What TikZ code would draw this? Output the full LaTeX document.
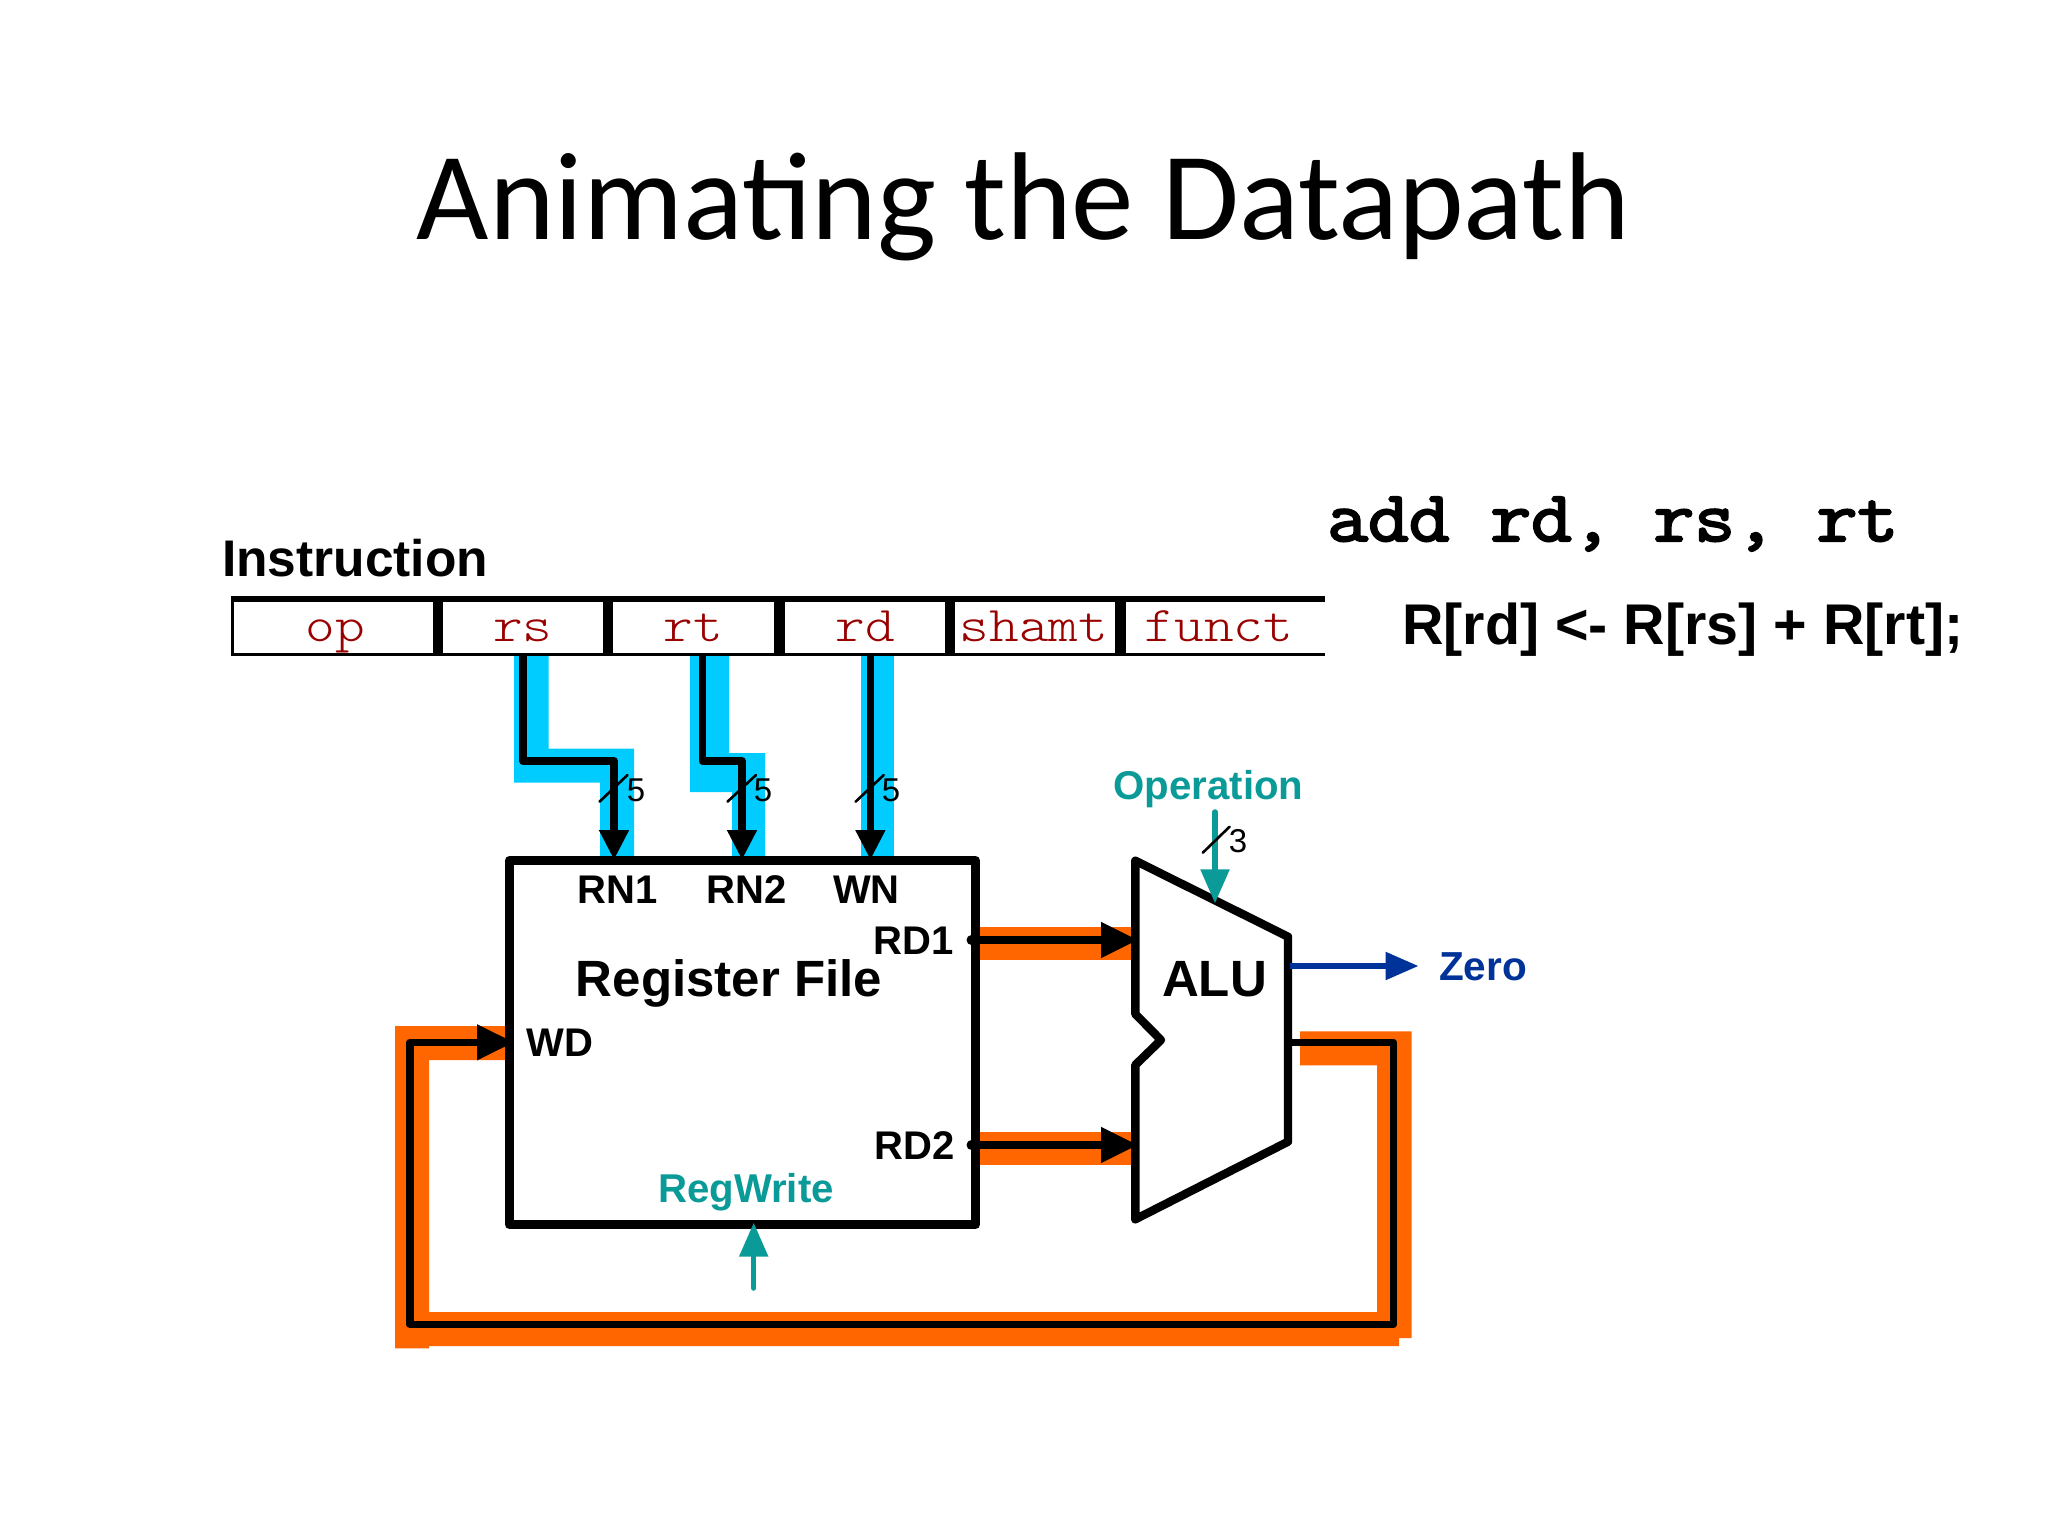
\documentclass[tikz,border=0pt]{standalone}
\usepackage{fontspec}
\usetikzlibrary{arrows.meta}
\setmainfont{Liberation Sans}
\newfontfamily\titlefont{Carlito}
\newfontfamily\asmfont{Latin Modern Mono}[FakeBold=3,FakeStretch=1.10]
\newfontfamily\fieldfont{Latin Modern Mono Light}[FakeStretch=1.13]
\definecolor{tealc}{HTML}{0A9A98}
\definecolor{bandorange}{HTML}{FF6600}
\definecolor{bandblue}{HTML}{00CCFF}
\definecolor{fieldred}{HTML}{990000}
\definecolor{zeroblue}{HTML}{003399}
\tikzset{
  x=1pt,y=-1pt,
  lab/.style={anchor=base,inner sep=0pt,outer sep=0pt,font=\fontsize{40}{40}\selectfont\bfseries},
  big/.style={anchor=base,inner sep=0pt,outer sep=0pt,font=\fontsize{51}{51}\selectfont\bfseries},
  ctl/.style={anchor=base,inner sep=0pt,outer sep=0pt,text=tealc,font=\fontsize{40.2}{40.2}\selectfont\bfseries},
  fieldtxt/.style={anchor=base,inner sep=0pt,outer sep=0pt,text=fieldred,font=\fontsize{50}{50}\selectfont\fieldfont},
  width/.style={anchor=base,inner sep=0pt,outer sep=0pt,font=\fontsize{33}{33}\selectfont},
  slash/.style={line width=2.6pt,line cap=round},
  wire/.style={line width=7.6pt,line join=round},
  hotwire/.style={wire,-{Triangle[length=37pt,width=34pt]}},
  buswire/.style={wire,-{Triangle[length=30pt,width=28pt]}},
  ctlwire/.style={line width=5.5pt,draw=tealc,line cap=round,-{Triangle[length=34pt,width=28pt]}},
  band/.style={fill=bandorange,draw=none},
  bluebus/.style={fill=bandblue,draw=none},
  block/.style={draw=black,fill=white,line width=9pt,line join=round},
  bar/.style={fill=black,draw=none},
}
\begin{document}
\begin{tikzpicture}
\useasboundingbox (0,0) rectangle (2048,1536);
\fill[white] (0,0) rectangle (2048,1536);

% title
\node[anchor=base,inner sep=0pt,font=\fontsize{125}{125}\selectfont\titlefont] (title) at (1023.5,239) {Animating the Datapath};

% right-hand text
\node[anchor=base west,inner sep=0pt,font=\fontsize{72}{72}\selectfont\asmfont] (asm) at (1327,541) {add rd, rs, rt};
\node[anchor=base west,inner sep=0pt,font=\fontsize{57.4}{57.4}\selectfont\bfseries] (rtl) at (1402,644) {R[rd] <- R[rs] + R[rt];};

% instruction word
\node[big,anchor=base west,font=\fontsize{51.5}{51.5}\selectfont\bfseries] (instr) at (222,576) {Instruction};
\fill[white] (231,596) rectangle (1325,656);
\fill[bar] (231,596) rectangle (1325,602);
\fill[bar] (231,653) rectangle (1325,656);
\fill[bar] (231,596) rectangle (233.5,656);
\foreach \a/\b in {433/443,603/613,774/785,945/955,1115/1126}{\fill[bar] (\a,596) rectangle (\b,656);}
\node[fieldtxt] (fop) at (335,641.7) {op};
\node[fieldtxt] (frs) at (522.7,641.7) {rs};
\node[fieldtxt] (frt) at (693.6,641.7) {rt};
\node[fieldtxt] (frd) at (865,641.7) {rd};
\node[fieldtxt] (fshamt) at (1034,641.7) {shamt};
\node[fieldtxt] (ffunct) at (1219,641.7) {funct};

% highlighted bands
\fill[bluebus] (514,656) -- (548.5,656) -- (548.5,748.7) -- (634,748.7) -- (634,857) -- (600,857) -- (600,782.7) -- (514,782.7) -- cycle;
\fill[bluebus] (690,656) -- (729,656) -- (729,753) -- (765,753) -- (765,857) -- (732,857) -- (732,792) -- (690,792) -- cycle;
\fill[bluebus] (861,656) rectangle (894.4,857);
\fill[band] (395,1026) -- (510,1026) -- (510,1060) -- (429,1060) -- (429,1312) -- (1377,1312) -- (1377,1065.3) -- (1300,1065.3) -- (1300,1031.3) -- (1411.6,1031.3) -- (1411.6,1338) -- (1399,1338) -- (1399,1346) -- (429,1346) -- (429,1348.3) -- (395,1348.3) -- cycle;
\fill[band] (975,926.7) rectangle (1131,960);
\fill[band] (975,1131.7) rectangle (1131,1165);

% blocks
\node[block,draw,minimum width=466pt,minimum height=364pt,anchor=center,inner sep=0pt,outer sep=0pt] (rf) at (742.5,1042.5) {};
\coordinate (aluA) at (1135.3,860.7);
\coordinate (aluB) at (1288,936.7);
\coordinate (aluC) at (1288,1141.7);
\coordinate (aluD) at (1135.3,1219.3);
\coordinate (aluE) at (1135.3,1065);
\coordinate (aluF) at (1161,1040);
\coordinate (aluG) at (1135.3,1014);
\draw[block,line width=8.4pt] (aluA) -- (aluB) -- (aluC) -- (aluD) -- (aluE) -- (aluF) -- (aluG) -- cycle;

% block text
\node[big] (rftext) at (729,996.7) {Register File};
\node[big] (alutext) at (1214.5,996.7) {ALU};
\node[lab] (rn1) at (617.7,903.3) {RN1};
\node[lab] (rn2) at (746.9,903.3) {RN2};
\node[lab] (wn) at (866.5,903.3) {WN};
\node[lab] (rd1) at (913.6,954.3) {RD1};
\node[lab] (rd2) at (914.4,1159) {RD2};
\node[lab] (wd) at (559.6,1056.7) {WD};
\node[ctl] (regwrite) at (746,1202.7) {RegWrite};
\node[ctl] (operation) at (1208.5,799) {Operation};
\node[anchor=base west,inner sep=0pt,text=zeroblue,font=\fontsize{40.5}{40.5}\selectfont\bfseries] (zero) at (1439,980) {Zero};

% register-number buses
\coordinate (rsOut) at (523,656);
\coordinate (rn1In) at (614,860);
\coordinate (rtOut) at (702.5,656);
\coordinate (rn2In) at (742,860);
\coordinate (rdOut) at (870.4,656);
\coordinate (wnIn) at (870.4,860);
\draw[buswire] (rsOut) |- (568,761) -| (rn1In);
\draw[buswire] (rtOut) |- (722,761) -| (rn2In);
\draw[buswire] (rdOut) -- (wnIn);

% bus widths
\draw[slash] (599.5,801.7) -- (627.5,775);
\draw[slash] (727.5,801.7) -- (756,775);
\draw[slash] (855.6,801.7) -- (883.7,775);
\node[width] (w1) at (636,801) {5};
\node[width] (w2) at (763,801) {5};
\node[width] (w3) at (891,801) {5};

% data wires
\coordinate (rd1Out) at (971.5,940);
\coordinate (rd2Out) at (971.5,1145);
\coordinate (aluInA) at (1138,940);
\coordinate (aluInB) at (1138,1145);
\fill (rd1Out) circle (5pt);
\fill (rd2Out) circle (5pt);
\draw[hotwire] (rd1Out) -- (aluInA);
\draw[hotwire] (rd2Out) -- (aluInB);
\coordinate (aluOut) at (1288,1042.3);
\coordinate (wdIn) at (514,1042.3);
\draw[hotwire] (aluOut) -- (1393.6,1042.3) -- (1393.6,1324.3) -- (410,1324.3) -- (410,1042.3) -- (wdIn);

% control wires
\coordinate (opTop) at (1215,812);
\coordinate (opIn) at (1215,903.3);
\draw[ctlwire] (opTop) -- (opIn);
\draw[slash] (1202.8,852.7) -- (1229.6,826.7);
\node[width] (w4) at (1238,852) {3};
\coordinate (rwBottom) at (753.7,1288);
\coordinate (rwIn) at (753.7,1222.7);
\draw[ctlwire] (rwBottom) -- (rwIn);
\coordinate (zeroOut) at (1290,966);
\coordinate (zeroEnd) at (1418.5,966);
\draw[line width=5.5pt,draw=zeroblue,-{Triangle[length=33pt,width=27pt]}] (zeroOut) -- (zeroEnd);
\end{tikzpicture}
\end{document}
